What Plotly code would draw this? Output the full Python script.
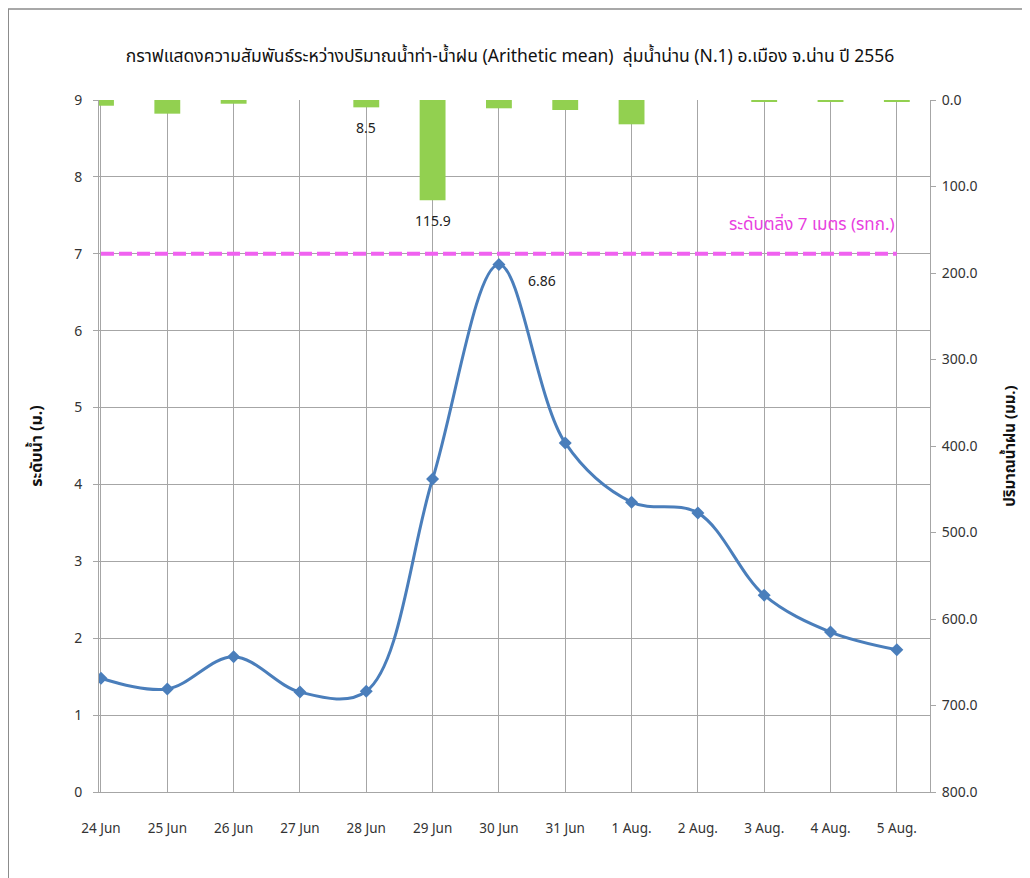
import plotly.graph_objects as go

categories = ["24 Jun", "25 Jun", "26 Jun", "27 Jun", "28 Jun", "29 Jun", "30 Jun",
              "31 Jun", "1 Aug.", "2 Aug.", "3 Aug.", "4 Aug.", "5 Aug."]
water_level = [1.48, 1.34, 1.76, 1.30, 1.31, 4.07, 6.86, 4.54, 3.77, 3.63, 2.56, 2.08, 1.85]
rainfall = [6.6, 15.8, 4.3, 0.0, 8.5, 115.9, 9.6, 11.6, 28.1, 0.0, 2.3, 1.2, 2.0]
bank_level = 7
rain_labels = {4: "8.5", 5: "115.9"}
level_label_idx = 6

xs = list(range(len(categories)))
FONT = "Noto Sans, Noto Sans Thai, sans-serif"

fig = go.Figure()

fig.add_trace(go.Bar(
    x=xs, y=rainfall, yaxis="y2", width=0.39,
    marker=dict(color="#92D050", line=dict(width=0)),
    showlegend=False, hoverinfo="skip",
))

fig.add_trace(go.Scatter(
    x=[xs[0], xs[-1]], y=[bank_level, bank_level], mode="lines",
    line=dict(color="#F062F0", width=4, dash="13px,5px"),
    showlegend=False, hoverinfo="skip",
))

fig.add_trace(go.Scatter(
    x=xs, y=water_level, mode="lines+markers",
    line=dict(color="#4A7EBB", width=3, shape="spline", smoothing=1.0),
    marker=dict(symbol="diamond", size=10, color="#4A7EBB"),
    showlegend=False,
))

annotations = []
for i, t in rain_labels.items():
    annotations.append(dict(x=xs[i], y=rainfall[i], xref="x", yref="y2", text=t,
                            showarrow=False, yanchor="top", yshift=-9,
                            font=dict(family=FONT, size=14, color="#222")))
annotations.append(dict(x=xs[level_label_idx], y=water_level[level_label_idx], xref="x", yref="y",
                        text=f"{water_level[level_label_idx]:.2f}", showarrow=False,
                        xanchor="left", yanchor="top", xshift=27, yshift=-4,
                        font=dict(family=FONT, size=14, color="#222")))
annotations.append(dict(x=xs[-1], y=bank_level, xref="x", yref="y",
                        text=f"ระดับตลิ่ง {bank_level} เมตร (รทก.)", showarrow=False,
                        xanchor="right", yanchor="bottom", yshift=17,
                        font=dict(family=FONT, size=17, color="#E83FE0")))

# page body adds an 8px offset; layout numbers below compensate for it
fig.update_layout(
    width=1030, height=878,
    margin=dict(l=91, r=108, t=92, b=94),
    paper_bgcolor="white", plot_bgcolor="white",
    font=dict(family=FONT, size=13, color="#333"),
    title=dict(text="กราฟแสดงความสัมพันธ์ระหว่างปริมาณน้ำท่า-น้ำฝน (Arithetic mean)  ลุ่มน้ำน่าน (N.1) อ.เมือง จ.น่าน ปี 2556",
               x=(510 - 8) / 1030, xanchor="center", y=1 - 48 / 878, yanchor="middle",
               font=dict(family=FONT, size=17.5, color="#111")),
    xaxis=dict(range=[-0.03, 12.5], tickvals=xs, ticktext=categories,
               showgrid=True, gridcolor="#A6A6A6", gridwidth=1,
               showline=True, linecolor="#A6A6A6", zeroline=False,
               ticks="", ticklabelstandoff=24, tickfont=dict(size=13.5, color="#333")),
    yaxis=dict(range=[0, 9], dtick=1, showgrid=True, gridcolor="#A6A6A6",
               showline=True, linecolor="#A6A6A6", zeroline=False,
               ticks="outside", ticklen=5, tickcolor="#A6A6A6", ticklabelstandoff=8,
               title=dict(text="<b>ระดับน้ำ (ม.)</b>", font=dict(size=16, color="#111"), standoff=27),
               tickfont=dict(size=14, color="#333")),
    yaxis2=dict(range=[800, 0], dtick=100, tickformat=".1f", overlaying="y", side="right",
                showgrid=False, showline=True, linecolor="#A6A6A6", zeroline=False,
                ticks="outside", ticklen=5, tickcolor="#A6A6A6", ticklabelstandoff=3,
                title=dict(text="<b>ปริมาณน้ำฝน (มม.)</b>", font=dict(size=15, color="#111"), standoff=27),
                tickfont=dict(size=14, color="#333")),
    annotations=annotations,
    shapes=[dict(type="rect", xref="paper", yref="paper",
                 x0=0.0003 - 91 / 831, x1=1.3, y0=-0.3, y1=1 + 92 / 692 - 0.0015,
                 line=dict(color="#8C8C8C", width=1.5), layer="below")],
    bargap=0.6,
)

fig.write_html("out.html")
